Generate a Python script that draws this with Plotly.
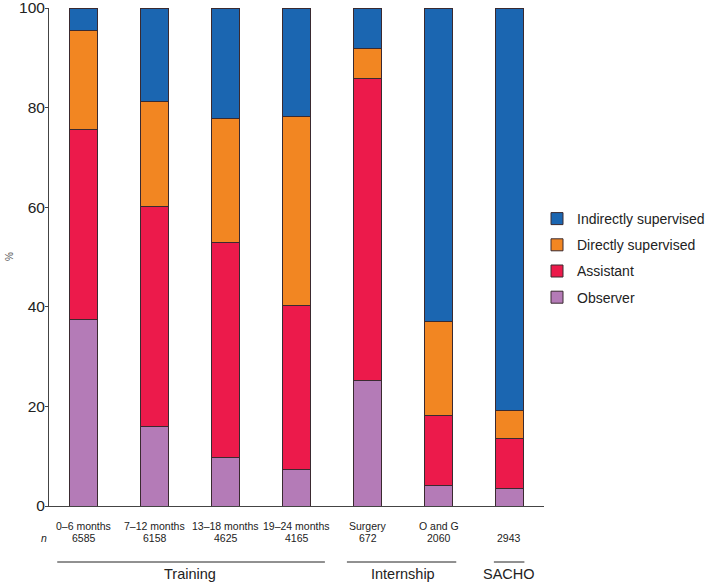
import plotly.graph_objects as go

categories = ["0–6 months", "7–12 months", "13–18 months", "19–24 months", "Surgery", "O and G", ""]
n_values = ["6585", "6158", "4625", "4165", "672", "2060", "2943"]

observer = [37.5, 16.0, 9.7, 7.3, 25.3, 4.1, 3.6]
assistant = [38.1, 44.2, 43.2, 33.0, 60.5, 14.0, 9.9]
directly = [19.8, 21.0, 24.9, 37.9, 6.0, 18.9, 5.7]
indirectly = [4.6, 18.8, 22.2, 21.8, 8.2, 63.0, 80.8]

series_names = ["Observer", "Assistant", "Directly supervised", "Indirectly supervised"]
series_values = [observer, assistant, directly, indirectly]
colors = ["#b47bb7", "#ec1a4b", "#f28622", "#1b66b1"]

groups = ["Training", "Internship", "SACHO"]
group_first = [0, 4, 6]
group_last = [3, 5, 6]
group_pad_left = [0.37, 0.29, 0.22]
group_pad_right = [0.40, 0.25, 0.21]
group_label_x = [1.5, 4.5, 6.0]

yticks = [0, 20, 40, 60, 80, 100]

FONT = "Liberation Sans, Arial, Helvetica, sans-serif"
PLOT_H = 498.0
PLOT_W = 495.0
x = list(range(len(categories)))

fig = go.Figure()
n_series = len(series_names)
for i, (name, vals, col) in enumerate(zip(series_names, series_values, colors)):
    fig.add_trace(go.Bar(
        x=x, y=vals, name=name, legendgroup=name, legendrank=n_series - i,
        marker=dict(color=col, line=dict(color="#3a2a30", width=1)),
        width=0.387,
    ))

annotations = []
for xi, (cat, n) in enumerate(zip(categories, n_values)):
    if cat:
        annotations.append(dict(x=xi, y=-19.5 / PLOT_H, xref="x", yref="paper",
                                text=cat, showarrow=False, yanchor="middle", xanchor="center",
                                font=dict(size=10.5, color="#222", family=FONT)))
    annotations.append(dict(x=xi, y=-32 / PLOT_H, xref="x", yref="paper",
                            text=n, showarrow=False, yanchor="middle", xanchor="center",
                            font=dict(size=10.5, color="#222", family=FONT)))
annotations.append(dict(x=(44 - 49) / PLOT_W, y=-32 / PLOT_H, xref="paper", yref="paper",
                        text="<i>n</i>", showarrow=False, yanchor="middle", xanchor="center",
                        font=dict(size=10.5, color="#222", family=FONT)))

shapes = []
for g, f, l, pl, pr, lx in zip(groups, group_first, group_last, group_pad_left, group_pad_right, group_label_x):
    shapes.append(dict(type="line", xref="x", yref="paper",
                       x0=f - pl, x1=l + pr, y0=-56 / PLOT_H, y1=-56 / PLOT_H,
                       line=dict(color="#222", width=1)))
    annotations.append(dict(x=lx, y=-68 / PLOT_H, xref="x", yref="paper",
                            text=g, showarrow=False, yanchor="middle", xanchor="center",
                            font=dict(size=14.5, color="#222", family=FONT)))

annotations.append(dict(x=(9 - 49) / PLOT_W, y=0.5, xref="paper", yref="paper",
                        text="%", showarrow=False, textangle=-90, xanchor="center",
                        font=dict(size=10, color="#555", family=FONT)))

fig.update_layout(
    width=709, height=582,
    margin=dict(l=49, r=165, t=8, b=76, autoexpand=False),
    barmode="stack",
    paper_bgcolor="white", plot_bgcolor="white",
    font=dict(family=FONT, color="#222"),
    showlegend=True,
    legend=dict(x=(537 - 49) / PLOT_W, xanchor="left", y=(506 - 203) / PLOT_H, yanchor="top",
                traceorder="grouped", tracegroupgap=5,
                bgcolor="rgba(0,0,0,0)", font=dict(size=14, color="#222", family=FONT)),
    xaxis=dict(range=[-0.486, 6.486], showline=True, linecolor="#444", linewidth=1,
               showticklabels=False, ticks="", showgrid=False, zeroline=False,
               automargin=False, fixedrange=True),
    yaxis=dict(range=[0, 100.001], tickvals=yticks, showline=True, linecolor="#444", linewidth=1,
               ticks="outside", ticklen=3, tickcolor="#444", showgrid=False, zeroline=False,
               automargin=False, ticklabeloverflow="allow", fixedrange=True,
               ticklabelstandoff=-3,
               tickfont=dict(size=15.5, color="#222", family=FONT)),
    annotations=annotations,
    shapes=shapes,
)

fig.write_html("out.html", config={"displayModeBar": False},
               post_script="document.body.style.margin='0';")
